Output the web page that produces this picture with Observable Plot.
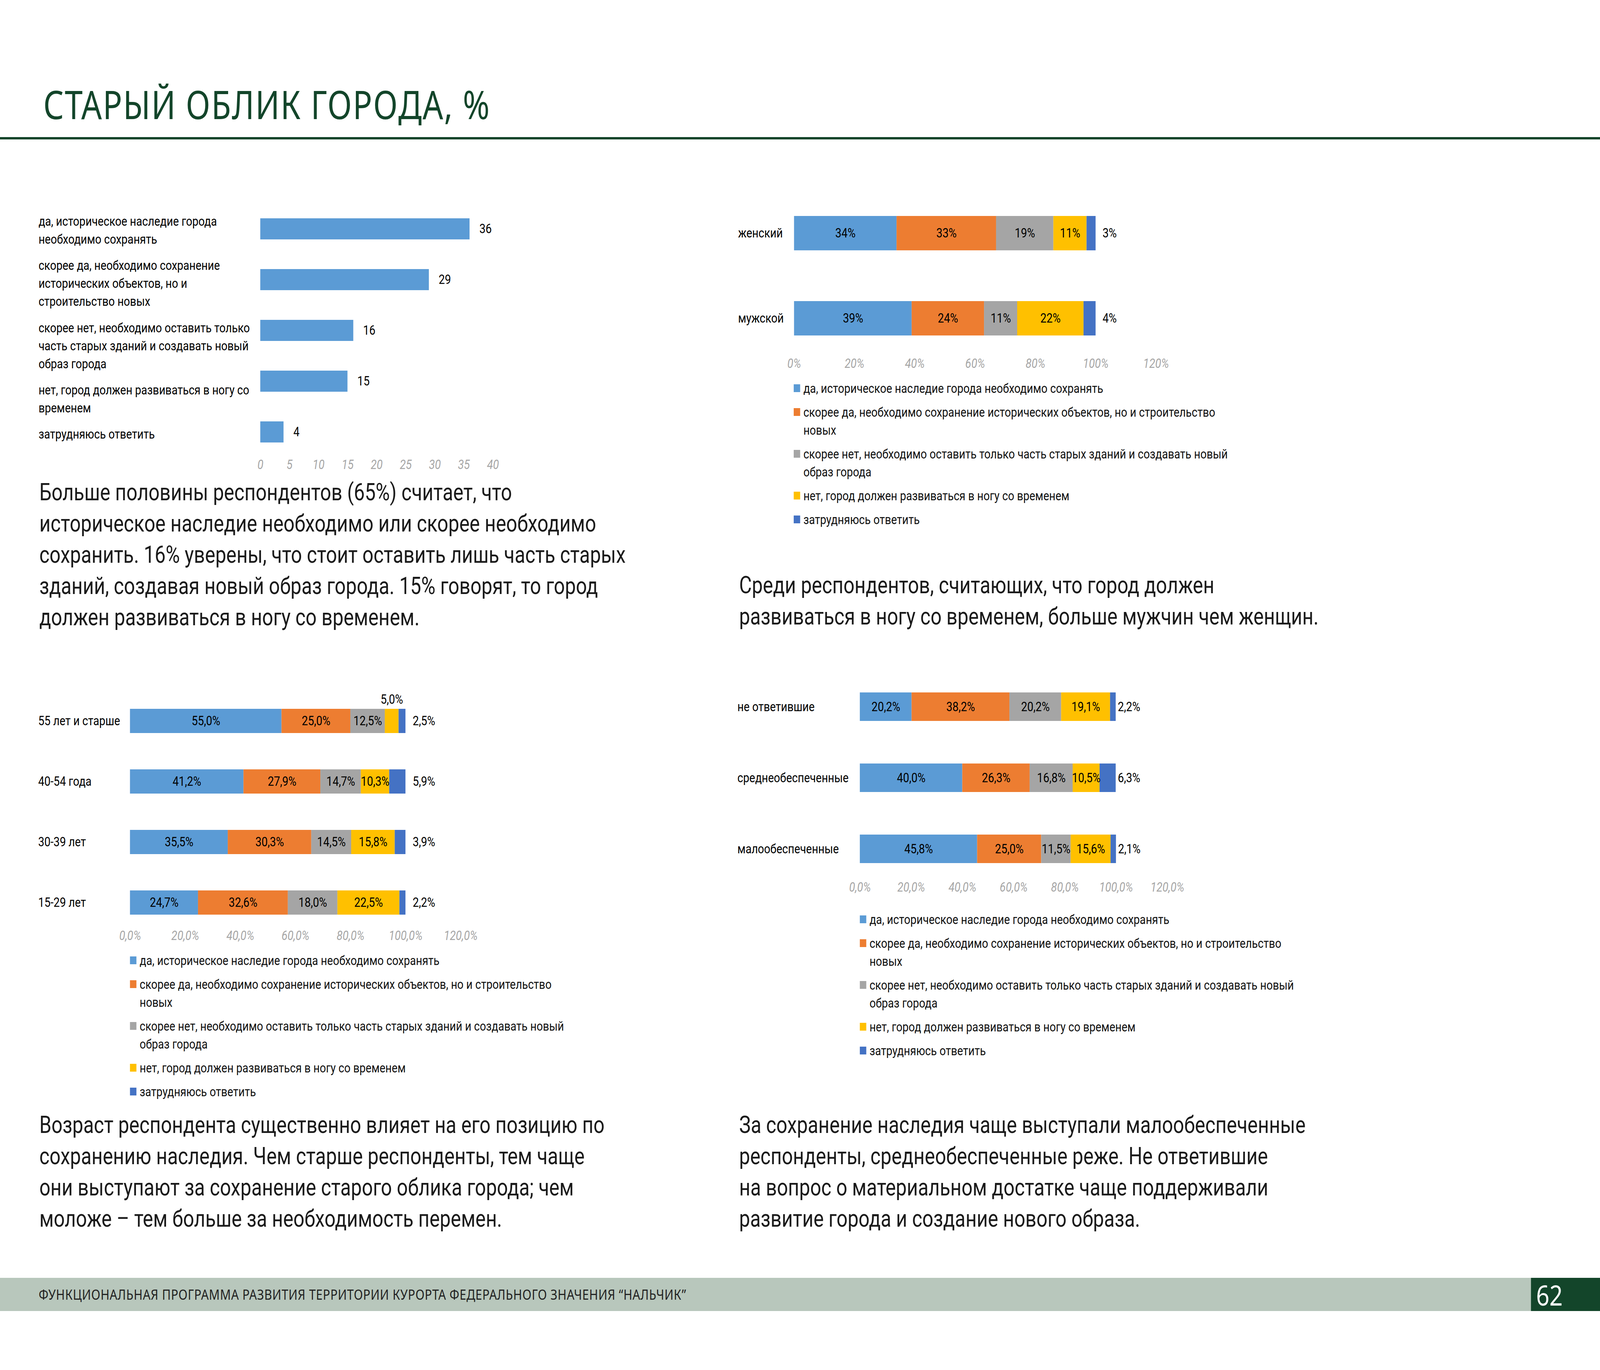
<!DOCTYPE html>
<html><head><meta charset="utf-8">
<script src="https://cdn.jsdelivr.net/npm/d3@7"></script>
<script src="https://cdn.jsdelivr.net/npm/@observablehq/plot@0.6"></script>
<style>
html,body{margin:0;padding:0;background:#fff;overflow:hidden;}
#page{position:relative;width:4961px;height:3508px;overflow:hidden;background:#fff;transform-origin:0 0;}
.abs{position:absolute;}
.para{font-family:Roboto,sans-serif;color:#1a1a1a;white-space:nowrap;}
.legend{font-family:Roboto,sans-serif;font-size:34px;line-height:46px;color:#111;}
.legend .item{display:flex;align-items:flex-start;margin-bottom:15px;}
.legend .sw{width:20px;height:20px;flex:none;margin-top:13px;margin-right:10px;}
g[aria-label="x-axis tick label"] text{font-style:italic;}
</style></head>
<body><div id="page"></div>
<script>
// ---------- DATA ----------
const titleText = "СТАРЫЙ ОБЛИК ГОРОДА, %";
const footerText = "ФУНКЦИОНАЛЬНАЯ ПРОГРАММА РАЗВИТИЯ ТЕРРИТОРИИ КУРОРТА ФЕДЕРАЛЬНОГО ЗНАЧЕНИЯ “НАЛЬЧИК”";
const pageNumber = "62";

const seriesNames = [
  "да, историческое наследие города необходимо сохранять",
  "скорее да, необходимо сохранение исторических объектов, но и строительство новых",
  "скорее нет, необходимо оставить только часть старых зданий и создавать новый образ города",
  "нет, город должен развиваться в ногу со временем",
  "затрудняюсь ответить"
];
const seriesColors = ["#5B9BD5", "#ED7D31", "#A5A5A5", "#FFC000", "#4472C4"];

const totalLabels = [
  "да, историческое наследие города\nнеобходимо сохранять",
  "скорее да, необходимо сохранение\nисторических объектов, но и\nстроительство новых",
  "скорее нет, необходимо оставить только\nчасть старых зданий и создавать новый\nобраз города",
  "нет, город должен развиваться в ногу со\nвременем",
  "затрудняюсь ответить"
];
const totalValues = [36, 29, 16, 15, 4];
const totalTicks = [0, 5, 10, 15, 20, 25, 30, 35, 40];

const genderGroups = ["женский", "мужской"];
const genderValues = [
  [34, 33, 19, 11, 3],
  [39, 24, 11, 22, 4]
];

const ageGroups = ["55 лет и старше", "40-54 года", "30-39 лет", "15-29 лет"];
const ageValues = [
  [55.0, 25.0, 12.5, 5.0, 2.5],
  [41.2, 27.9, 14.7, 10.3, 5.9],
  [35.5, 30.3, 14.5, 15.8, 3.9],
  [24.7, 32.6, 18.0, 22.5, 2.2]
];

const incomeGroups = ["не ответившие", "среднеобеспеченные", "малообеспеченные"];
const incomeValues = [
  [20.2, 38.2, 20.2, 19.1, 2.2],
  [40.0, 26.3, 16.8, 10.5, 6.3],
  [45.8, 25.0, 11.5, 15.6, 2.1]
];

const pctTicks = [0, 20, 40, 60, 80, 100, 120];

const para1 = [
  "Больше половины респондентов (65%) считает, что",
  "историческое наследие необходимо или скорее необходимо",
  "сохранить. 16% уверены, что стоит оставить лишь часть старых",
  "зданий, создавая новый образ города. 15% говорят, то город",
  "должен развиваться в ногу со временем."
];
const para2 = [
  "Среди респондентов, считающих, что город должен",
  "развиваться в ногу со временем, больше мужчин чем женщин."
];
const para3 = [
  "Возраст респондента существенно влияет на его позицию по",
  "сохранению наследия. Чем старше респонденты, тем чаще",
  "они выступают за сохранение старого облика города; чем",
  "моложе – тем больше за необходимость перемен."
];
const para4 = [
  "За сохранение наследия чаще выступали малообеспеченные",
  "респонденты, среднеобеспеченные реже. Не ответившие",
  "на вопрос о материальном достатке чаще поддерживали",
  "развитие города и создание нового образа."
];

// ---------- HELPERS ----------
const page = document.getElementById("page");
// fit the 4961x3508 page design into whatever window is actually given
page.style.transform = `scale(${window.innerWidth / 4961}, ${window.innerHeight / 3508})`;
const GREEN = "#13452A";
const ctx = document.createElement("canvas").getContext("2d");
function measure(text, family, size) { ctx.font = `400 ${size}px ${family}`; return ctx.measureText(text).width; }
function div(cls, css, html) {
  const d = document.createElement("div");
  if (cls) d.className = cls;
  Object.assign(d.style, css);
  if (html !== undefined) d.innerHTML = html;
  page.appendChild(d);
  return d;
}
function topFor(baseline, size, lh, asc, desc) {
  return baseline - ((lh - (asc + desc) * size) / 2 + asc * size);
}
const fmt0 = v => v + "%";
const fmt1 = v => v.toFixed(1).replace(".", ",") + "%";

// ---------- PAGE FRAME ----------
{
  const size = 100, fam = "'Noto Sans'";
  const w = measure(titleText, fam, size);
  const ls = (1384 - w) / (titleText.length - 1);
  div("abs", {left: "134px", top: topFor(305, size, size, 1.069, 0.293) + "px", fontFamily: fam, fontSize: size + "px",
    lineHeight: size + "px", letterSpacing: ls + "px", color: GREEN, whiteSpace: "nowrap"}, titleText);
}
div("abs", {left: "0px", top: "351px", width: "4961px", height: "6px", background: GREEN});
div("abs", {left: "0px", top: "3272px", width: "4961px", height: "85px", background: "#B8C7BC"});
div("abs", {left: "4747px", top: "3272px", width: "214px", height: "85px", background: GREEN});
{
  const size = 37, fam = "'Noto Sans'";
  const w = measure(footerText, fam, size);
  const ls = (2007 - w) / (footerText.length - 1);
  div("abs", {left: "120px", top: topFor(3328, size, size, 1.069, 0.293) + "px", fontFamily: fam, fontSize: size + "px",
    lineHeight: size + "px", letterSpacing: ls + "px", color: "#222", whiteSpace: "nowrap"}, footerText);
  div("abs", {left: "4763px", top: topFor(3343, 72, 72, 1.069, 0.293) + "px", fontFamily: fam, fontSize: "72px",
    lineHeight: "72px", color: "#fff", whiteSpace: "nowrap"}, pageNumber);
}

const paraSize = 60 * 1818 / measure(para1[2], "Roboto", 60);
function paragraph(lines, left, baseline) {
  div("abs para", {left: left + "px", top: topFor(baseline, paraSize, 80, 0.928, 0.244) + "px",
    fontSize: paraSize + "px", lineHeight: "80px"}, lines.join("<br>"));
}
paragraph(para1, 122, 1282);
paragraph(para2, 2292, 1520);
paragraph(para3, 122, 2902);
paragraph(para4, 2292, 2902);

function legend(left, top) {
  const d = div("abs legend", {left: left + "px", top: top + "px", width: "1410px"});
  seriesNames.forEach((n, i) => {
    const it = document.createElement("div");
    it.className = "item";
    it.innerHTML = `<span class="sw" style="background:${seriesColors[i]}"></span><span>${n}</span>`;
    d.appendChild(it);
  });
}

const FS = 34;
const baseStyle = {fontFamily: "Roboto, sans-serif", fontSize: FS + "px", color: "#000", background: "transparent", maxWidth: "none", overflow: "visible"};
function mount(svg, left, top, width) {
  const d = div("abs", {left: left + "px", top: top + "px", width: width + "px"});
  d.appendChild(svg);
}

// ---------- CHART 1 ----------
{
  const left = 100, top = 500, width = 1540, height = 719, mL = 707, mT = 42, mB = 70;
  const pi = 0.588, po = 0.1145, n = totalLabels.length;
  const step = (height - mT - mB) / (n - pi + 2 * po);
  const bw = step * (1 - pi);
  // category label layout: centred on the bar, pushed down to keep a gap from the label above
  const lh = 46, gap = 22;
  let prevBottom = -Infinity;
  const labelDy = totalLabels.map((lab, i) => {
    const h = lab.split("\n").length * lh;
    const c = mT + step * po + i * step + bw / 2;
    const t = Math.max(c - h / 2, prevBottom + gap);
    prevBottom = t + h;
    return t + h / 2 - c;
  });
  const p = Plot.plot({
    width, height, marginLeft: mL, marginRight: 112, marginTop: mT, marginBottom: mB,
    style: baseStyle,
    x: {domain: [0, 40]},
    y: {domain: totalLabels, paddingInner: pi, paddingOuter: po, axis: null},
    marks: [
      Plot.barX(totalValues, {x: d => d, y: (d, i) => totalLabels[i], fill: seriesColors[0]}),
      Plot.text(totalValues, {x: d => d, y: (d, i) => totalLabels[i], text: d => String(d), textAnchor: "start", dx: 30, fill: "#000"}),
      ...totalLabels.map((lab, i) => Plot.text([lab], {y: d => d, text: d => d, frameAnchor: "left", textAnchor: "start",
        dx: 119 - (left + mL), dy: labelDy[i], lineHeight: lh / FS, fill: "#000"})),
      Plot.axisX({ticks: totalTicks, tickSize: 0, tickPadding: 27, color: "#A6A6A6", fontSize: FS, label: null})
    ]
  });
  mount(p, left, top, width);
}

// ---------- STACKED CHARTS ----------
function stacked(c) {
  const rows = c.groups.flatMap((g, gi) => c.values[gi].map((v, i) => ({group: g, series: seriesNames[i], idx: i, value: v})));
  const n = c.groups.length;
  const fh = c.height - c.mT - c.mB;
  const step = fh / (n - c.pi + 2 * c.po);
  const bw = step * (1 - c.pi);
  const p = Plot.plot({
    width: c.width, height: c.height, marginLeft: c.mL, marginRight: c.width - c.mL - c.fw, marginTop: c.mT, marginBottom: c.mB,
    style: baseStyle,
    x: {domain: [0, 120]},
    y: {domain: c.groups, paddingInner: c.pi, paddingOuter: c.po, axis: null},
    color: {domain: seriesNames, range: seriesColors},
    marks: [
      Plot.barX(rows, Plot.stackX({x: "value", y: "group", fill: "series"})),
      Plot.text(rows, Plot.stackX({x: "value", y: "group", fill: "#000",
        text: d => (d.idx < 4 && d.value >= 6) ? c.fmt(d.value) : null})),
      Plot.text(rows, Plot.stackX({x: "value", y: "group", fill: "#000", dy: -(bw / 2 + 24),
        text: d => (d.idx < 4 && d.value < 6) ? c.fmt(d.value) : null})),
      Plot.text(rows, Plot.stackX2({x: "value", y: "group", fill: "#000", textAnchor: "start", dx: c.endDx,
        text: d => d.idx === 4 ? c.fmt(d.value) : null})),
      Plot.text(c.groups, {y: d => d, text: d => d, frameAnchor: "left", textAnchor: "start", dx: c.labelX - (c.left + c.mL), fill: "#000"}),
      Plot.axisX({ticks: pctTicks, tickFormat: c.fmt, tickSize: 0, tickPadding: c.tp, color: "#A6A6A6", fontSize: FS, label: null})
    ]
  });
  mount(p, c.left, c.top, c.width);
}

stacked({groups: genderGroups, values: genderValues, fmt: fmt0,
  left: 2250, top: 500, width: 1700, height: 459, mL: 212, fw: 1122, mT: 32, mB: 80,
  pi: 0.598, po: 0.0913, tp: 38, endDx: 21, labelX: 2288});
legend(2461, 971);

stacked({groups: ageGroups, values: ageValues, fmt: fmt1,
  left: 80, top: 1740, width: 1500, height: 688, mL: 323, fw: 1025, mT: 59, mB: 70,
  pi: 0.603, po: 0.096, tp: 24, endDx: 22, labelX: 118});
legend(403, 2436);

stacked({groups: incomeGroups, values: incomeValues, fmt: fmt1,
  left: 2250, top: 1740, width: 1550, height: 556, mL: 416, fw: 953, mT: 17, mB: 70,
  pi: 0.601, po: 0.082, tp: 32, endDx: 6, labelX: 2286});
legend(2666, 2331);
</script>
</body></html>
